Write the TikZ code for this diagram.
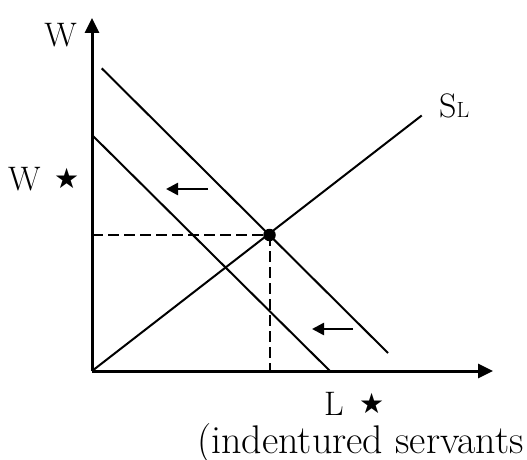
\documentclass[tikz,border=0pt]{standalone}
\usepackage{fontspec}
\newfontfamily\symfont{DejaVu Sans}
\usetikzlibrary{arrows.meta}
\begin{document}
\begin{tikzpicture}[x=1pt,y=-1pt,
  axis/.style={line width=3pt,-{Triangle[length=15pt,width=14pt]}},
  curve/.style={line width=2pt},
  guide/.style={line width=2pt,dash pattern=on 11pt off 5pt},
  shiftarrow/.style={line width=2.5pt,-{Triangle[length=12pt,width=12pt]}},
  lbl/.style={inner sep=0pt,font=\fontsize{34}{40}\selectfont},
  star/.style={inner sep=0pt,font=\symfont\fontsize{28}{32}\selectfont}]
\useasboundingbox (0,0) rectangle (527,460);
% coordinates
\coordinate (O) at (92,371);
\coordinate (Ytip) at (92,18);
\coordinate (Xtip) at (493,371);
\coordinate (D1a) at (101.7,68.3);
\coordinate (D1b) at (388,353);
\coordinate (D2a) at (92,135);
\coordinate (D2b) at (330,371);
\coordinate (Send) at (421.7,115.5);
\coordinate (Wq) at (92,235);
\coordinate (Lq) at (269.5,371);
\coordinate (A1s) at (208,189);
\coordinate (A1e) at (166,189);
\coordinate (A2s) at (353,329);
\coordinate (A2e) at (312,329);
% axes
\draw[axis] (O) -- (Ytip);
\draw[axis] (O) -- (Xtip);
% curves
\draw[curve] (D1a) -- (D1b);
\draw[curve] (D2a) -- (D2b);
\draw[curve] (O) -- (Send);
% equilibrium
\node[circle,fill=black,inner sep=0pt,minimum size=12.5pt] (E) at (269.5,235) {};
\draw[guide] (Wq) -- (E.center);
\draw[guide] (E.center) -- (Lq);
% shift arrows
\draw[shiftarrow] (A1s) -- (A1e);
\draw[shiftarrow] (A2s) -- (A2e);
% labels
\node[lbl,anchor=base east] (lW) at (77,47) {W};
\node[lbl,anchor=base west] (lWs) at (8,190) {W};
\node[star,anchor=base west] (sW) at (54,188) {★};
\node[lbl,anchor=base west] (lS) at (439,117) {S{\fontsize{22}{26}\selectfont L}};
\node[lbl,anchor=base west] (lL) at (324,415) {L};
\node[star,anchor=base west] (sL) at (359,413) {★};
\node[inner sep=0pt,font=\fontsize{40}{46}\selectfont,anchor=base east] (lInd) at (524,453) {(indentured servants};
\end{tikzpicture}
\end{document}
